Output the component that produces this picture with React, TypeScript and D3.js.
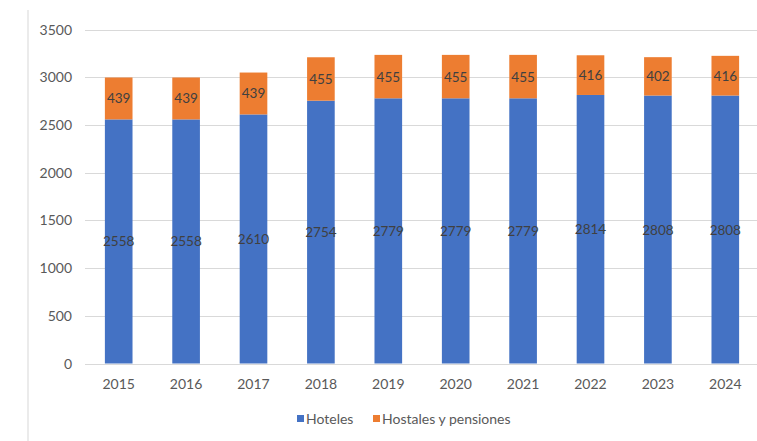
import { useEffect, useRef } from 'react';
import * as d3 from 'd3';

const years = ['2015', '2016', '2017', '2018', '2019', '2020', '2021', '2022', '2023', '2024'];
const hoteles = [2558, 2558, 2610, 2754, 2779, 2779, 2779, 2814, 2808, 2808];
const hostales = [439, 439, 439, 455, 455, 455, 455, 416, 402, 416];
const yTicks = [0, 500, 1000, 1500, 2000, 2500, 3000, 3500];
const seriesNames = ['Hoteles', 'Hostales y pensiones'];
const colors = ['#4472C4', '#ED7D31'];

export default function App() {
  const svgRef = useRef<SVGSVGElement>(null);

  useEffect(() => {
    if (!svgRef.current) return;
    const svg = d3.select(svgRef.current);
    svg.selectAll('*').remove();

    const W = 757, H = 441;
    const font = 'Lato, "Open Sans", sans-serif';

    svg.append('rect').attr('width', W).attr('height', H).attr('fill', '#fff');
    // faint outer frame on the left
    svg.append('line')
      .attr('x1', 28).attr('x2', 28).attr('y1', 10).attr('y2', H)
      .attr('stroke', '#e4e4e4').attr('stroke-width', 1.5);

    const x = d3.scaleBand<string>()
      .domain(years)
      .range([85, 759])
      .paddingInner(0.59)
      .paddingOuter(0.295);

    const y = d3.scaleLinear().domain([0, 3500]).range([363.5, 29.5]);

    // gridlines
    svg.append('g')
      .selectAll('line')
      .data(yTicks)
      .enter().append('line')
      .attr('x1', 85).attr('x2', W)
      .attr('y1', d => Math.round(y(d)) + 0.5)
      .attr('y2', d => Math.round(y(d)) + 0.5)
      .attr('stroke', '#d9d9d9').attr('stroke-width', 1);

    // y labels
    svg.append('g')
      .selectAll('text')
      .data(yTicks)
      .enter().append('text')
      .attr('x', 72)
      .attr('y', d => y(d) + 5)
      .attr('text-anchor', 'end')
      .style('font-family', font)
      .style('font-size', '14px')
      .style('fill', '#595959')
      .text(d => String(d));

    const stacked = years.map((yr, i) => ({ yr, h: hoteles[i], p: hostales[i] }));

    // hoteles bars
    svg.append('g')
      .selectAll('rect')
      .data(stacked)
      .enter().append('rect')
      .attr('x', d => x(d.yr)!)
      .attr('width', x.bandwidth())
      .attr('y', d => y(d.h))
      .attr('height', d => y(0) - y(d.h))
      .attr('fill', colors[0]);

    // hostales bars
    svg.append('g')
      .selectAll('rect')
      .data(stacked)
      .enter().append('rect')
      .attr('x', d => x(d.yr)!)
      .attr('width', x.bandwidth())
      .attr('y', d => y(d.h + d.p))
      .attr('height', d => y(d.h) - y(d.h + d.p))
      .attr('fill', colors[1]);

    // data labels
    const lbl = svg.append('g')
      .style('font-family', font)
      .style('font-size', '13.5px')
      .style('fill', '#404040')
      .attr('text-anchor', 'middle');

    lbl.selectAll('.lh')
      .data(stacked)
      .enter().append('text')
      .attr('class', 'lh')
      .attr('x', d => x(d.yr)! + x.bandwidth() / 2)
      .attr('y', d => (y(0) + y(d.h)) / 2 + 5)
      .text(d => String(d.h));

    lbl.selectAll('.lp')
      .data(stacked)
      .enter().append('text')
      .attr('class', 'lp')
      .attr('x', d => x(d.yr)! + x.bandwidth() / 2)
      .attr('y', d => (y(d.h) + y(d.h + d.p)) / 2 + 5)
      .text(d => String(d.p));

    // x labels
    svg.append('g')
      .selectAll('text')
      .data(years)
      .enter().append('text')
      .attr('x', d => x(d)! + x.bandwidth() / 2)
      .attr('y', 389)
      .attr('text-anchor', 'middle')
      .style('font-family', font)
      .style('font-size', '14px')
      .style('fill', '#595959')
      .text(d => d);

    // legend
    const legendX = [297, 373];
    const lg = svg.append('g');
    seriesNames.forEach((name, i) => {
      lg.append('rect')
        .attr('x', legendX[i]).attr('y', 415)
        .attr('width', 7).attr('height', 7)
        .attr('fill', colors[i]);
      lg.append('text')
        .attr('x', legendX[i] + 9)
        .attr('y', 424)
        .style('font-family', font)
        .style('font-size', '14px')
        .style('fill', '#595959')
        .text(name);
    });
  }, []);

  return (
    <svg
      ref={svgRef}
      width={757}
      height={441}
      style={{ position: 'absolute', left: 0, top: 0, display: 'block' }}
    />
  );
}
